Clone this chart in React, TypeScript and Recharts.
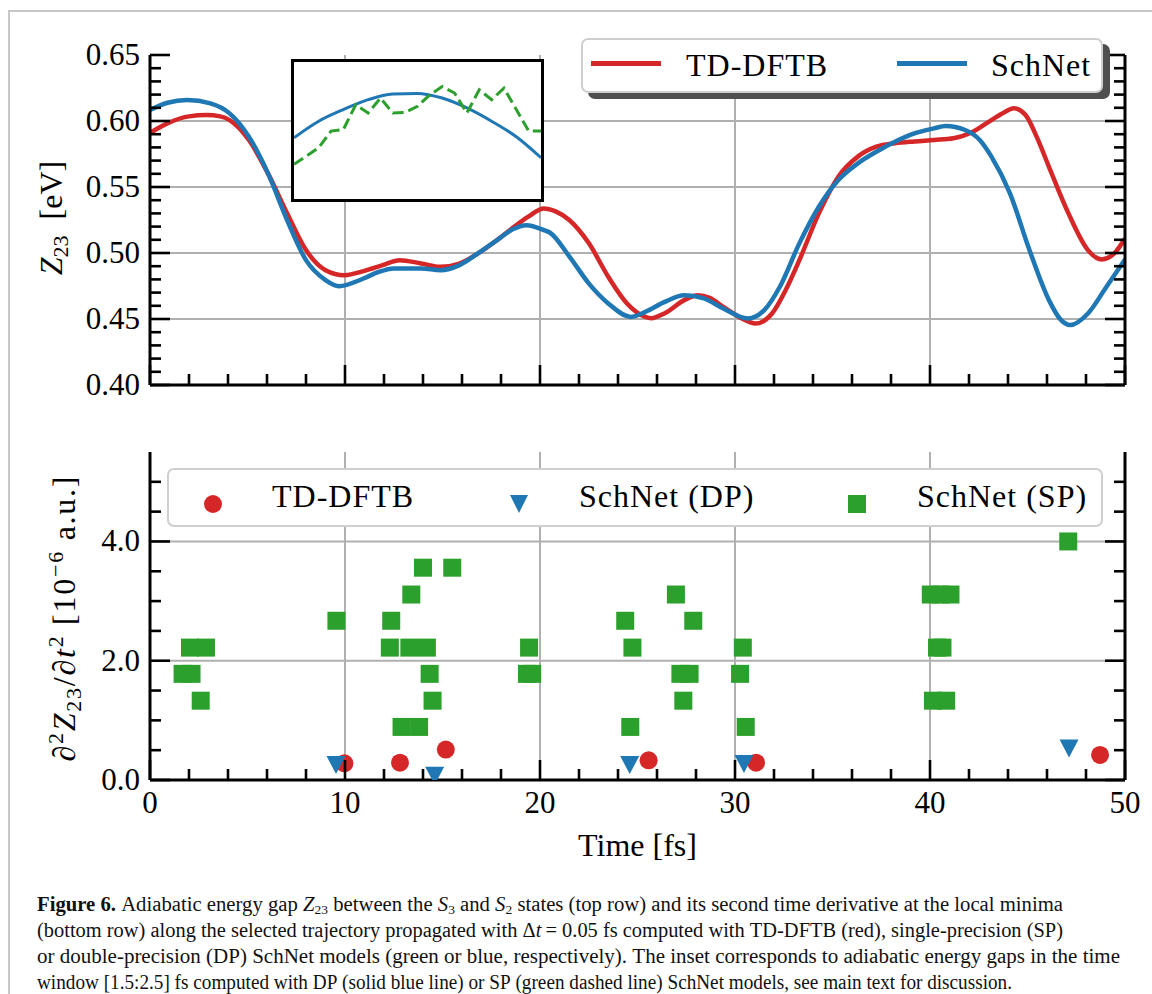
import React from 'react';
import { LineChart, Line, ScatterChart, Scatter, XAxis, YAxis, CartesianGrid, Legend, Label } from 'recharts';

const FONT = '"Liberation Serif","Times New Roman",serif';
const RED = '#d62728';
const BLUE = '#1f77b4';
const GREEN = '#2ca02c';
const GRID = '#b0b0b0';
const AXIS = { stroke: '#000', strokeWidth: 3 };

// ---------- top panel: Z23 [eV] ----------
const tddftbTime = [0, 1.0, 2.0, 2.9, 3.6, 4.1, 5.07, 6.05, 7.03, 8.0, 9.0, 9.97, 11.0, 11.93, 12.8, 13.9, 14.9, 15.87, 16.8, 17.8, 18.6, 19.4, 20.2, 20.8, 21.5, 22.5, 23.5, 24.45, 25.4, 25.7, 26.4, 27.4, 28.1, 28.7, 29.4, 30.35, 31.05, 31.9, 32.6, 33.3, 34.3, 35.3, 36.3, 37.25, 38.2, 39.2, 40.2, 41.2, 42.2, 43.15, 43.8, 44.3, 44.9, 45.5, 46.1, 47.1, 48.1, 48.8, 49.45, 50];
const tddftbGap = [0.591, 0.599, 0.6035, 0.6045, 0.6035, 0.6005, 0.5856, 0.5603, 0.5302, 0.5022, 0.487, 0.4832, 0.4865, 0.4908, 0.4946, 0.4921, 0.4895, 0.492, 0.4995, 0.5098, 0.519, 0.5275, 0.5338, 0.5315, 0.525, 0.5075, 0.482, 0.462, 0.4516, 0.4506, 0.4544, 0.4643, 0.468, 0.466, 0.4592, 0.4504, 0.4466, 0.4542, 0.472, 0.4946, 0.53, 0.5578, 0.573, 0.5805, 0.5831, 0.5845, 0.5856, 0.5869, 0.5919, 0.6007, 0.6065, 0.6096, 0.6045, 0.587, 0.5653, 0.53, 0.5022, 0.4951, 0.4997, 0.511];

const schnetTime = [0, 0.9, 1.9, 3.1, 4.08, 5.07, 6.05, 7.03, 8.0, 9.0, 9.68, 10.95, 11.7, 12.5, 13.9, 14.9, 15.87, 16.8, 17.8, 18.6, 19.3, 20.2, 20.5, 21.5, 22.5, 23.5, 24.65, 25.4, 26.4, 27.4, 28.4, 29.4, 30.65, 31.5, 32.3, 33.3, 34.3, 35.3, 36.3, 37.25, 38.2, 39.2, 40.2, 40.8, 41.8, 42.55, 43.15, 44.1, 45.1, 46.1, 46.7, 47.2, 48.1, 49.05, 50];
const schnetGap = [0.6083, 0.6138, 0.6159, 0.6134, 0.6058, 0.5881, 0.5603, 0.525, 0.4946, 0.4795, 0.4749, 0.4807, 0.4855, 0.4883, 0.4883, 0.487, 0.4908, 0.4995, 0.5098, 0.518, 0.5211, 0.5174, 0.5155, 0.4975, 0.477, 0.4618, 0.4516, 0.4554, 0.463, 0.468, 0.4656, 0.458, 0.4504, 0.4567, 0.4744, 0.5073, 0.535, 0.5553, 0.5679, 0.5767, 0.5843, 0.5906, 0.5944, 0.5962, 0.5932, 0.5856, 0.573, 0.5452, 0.5022, 0.4643, 0.4495, 0.4454, 0.4542, 0.4744, 0.495];

// ---------- inset: window [1.5:2.5] fs ----------
const insetDPTime = [1.5, 1.6, 1.7, 1.8, 1.9, 2.0, 2.1, 2.2, 2.3, 2.4, 2.5];
const insetDPGap = [0.61314, 0.61396, 0.61454, 0.61503, 0.61531, 0.61534, 0.61511, 0.61462, 0.61396, 0.61319, 0.61215];
const insetSPTime = [1.5, 1.55, 1.6, 1.65, 1.7, 1.75, 1.8, 1.85, 1.9, 1.95, 2.0, 2.05, 2.1, 2.15, 2.2, 2.25, 2.3, 2.35, 2.4, 2.45, 2.5];
const insetSPGap = [0.61182, 0.61223, 0.61265, 0.61347, 0.61355, 0.61478, 0.61437, 0.61511, 0.61437, 0.6144, 0.6147, 0.61527, 0.61568, 0.61536, 0.61437, 0.61552, 0.61503, 0.6156, 0.61454, 0.61347, 0.61347];

// ---------- bottom panel: second derivative at local minima ----------
const tddftbMinTime = [9.97, 12.82, 15.17, 25.57, 31.08, 48.72];
const tddftbMinD2 = [0.28, 0.29, 0.51, 0.33, 0.29, 0.42];
const dpMinTime = [9.54, 14.6, 24.6, 30.46, 47.13];
const dpMinD2 = [0.25, 0.07, 0.25, 0.27, 0.53];
const spMinTime = [1.67, 2.13, 2.05, 2.87, 2.6, 9.56, 12.37, 12.3, 13.3, 14.2, 13.4, 14.0, 15.5, 14.34, 14.49, 12.9, 13.8, 19.33, 19.6, 19.44, 24.37, 24.74, 24.63, 26.97, 27.2, 27.67, 27.35, 27.86, 30.4, 30.26, 30.55, 40.04, 40.54, 41.05, 40.36, 40.64, 40.15, 40.83, 47.09];
const spMinD2 = [1.78, 1.78, 2.22, 2.22, 1.33, 2.67, 2.67, 2.22, 2.22, 2.22, 3.11, 3.56, 3.56, 1.78, 1.33, 0.89, 0.89, 1.78, 1.78, 2.22, 2.67, 2.22, 0.89, 3.11, 1.78, 1.78, 1.33, 2.67, 2.22, 1.78, 0.89, 3.11, 3.11, 3.11, 2.22, 2.22, 1.33, 1.33, 4.0];

// ---------- ticks ----------
const xTicks = [0, 2, 4, 6, 8, 10, 12, 14, 16, 18, 20, 22, 24, 26, 28, 30, 32, 34, 36, 38, 40, 42, 44, 46, 48, 50];
const xMajor = [0, 10, 20, 30, 40, 50];
const xGrid = [10, 20, 30, 40];
const topYTicks = [0.40, 0.41, 0.42, 0.43, 0.44, 0.45, 0.46, 0.47, 0.48, 0.49, 0.50, 0.51, 0.52, 0.53, 0.54, 0.55, 0.56, 0.57, 0.58, 0.59, 0.60, 0.61, 0.62, 0.63, 0.64, 0.65];
const topYMajor = [0.40, 0.45, 0.50, 0.55, 0.60, 0.65];
const topYGrid = [0.45, 0.50, 0.55, 0.60];
const botYTicks = [0, 0.5, 1.0, 1.5, 2.0, 2.5, 3.0, 3.5, 4.0, 4.5, 5.0];
const botYMajor = [0, 2, 4];
const botYGrid = [2, 4];
const insetXTicks = [2.0];

// legend entries in display order
const topLegendNames = ['TD-DFTB', 'SchNet'];
const botLegendNames = ['TD-DFTB', 'SchNet (DP)', 'SchNet (SP)'];

const zip = (ts: number[], vs: number[]) => ts.map((t, i) => ({ t, v: vs[i] }));
const tddftbSeries = zip(tddftbTime, tddftbGap);
const schnetSeries = zip(schnetTime, schnetGap);
const insetDP = zip(insetDPTime, insetDPGap);
const insetSP = zip(insetSPTime, insetSPGap);
const tddftbPts = zip(tddftbMinTime, tddftbMinD2);
const dpPts = zip(dpMinTime, dpMinD2);
const spPts = zip(spMinTime, spMinD2);

const MAJOR_LEN = 20;
const MINOR_LEN = 11;
const TICK_FS = 31;

const makeTick = (side: string, majors: number[], fmt?: (v: number) => string, majorLen = MAJOR_LEN, minorLen = MINOR_LEN) =>
  (props: any) => {
    const { x, y, payload } = props;
    const v = Number(payload.value);
    const major = majors.some((m) => Math.abs(m - v) < 1e-9);
    const len = major ? majorLen : minorLen;
    let x2 = x;
    let y2 = y;
    if (side === 'left') x2 = x + len;
    else if (side === 'right') x2 = x - len;
    else if (side === 'bottom') y2 = y - len;
    else y2 = y + len;
    let label = null;
    if (major && fmt) {
      if (side === 'left') {
        label = (
          <text x={x - 10} y={y + 10} textAnchor="end" fontFamily={FONT} fontSize={TICK_FS} fill="#000">{fmt(v)}</text>
        );
      } else {
        label = (
          <text x={x} y={y + 33} textAnchor="middle" fontFamily={FONT} fontSize={TICK_FS} fill="#000">{fmt(v)}</text>
        );
      }
    }
    return (
      <g>
        <line x1={x} y1={y} x2={x2} y2={y2} stroke="#000" strokeWidth={2.6} />
        {label}
      </g>
    );
  };

const vbOf = (props: any, fb: any) => (props && props.viewBox ? props.viewBox : fb);

const TopYLabel = (props: any) => {
  const vb = vbOf(props, { x: 0, y: 55, width: 150, height: 330 });
  const cx = vb.x + 51;
  const cy = vb.y + vb.height / 2 - 2;
  return (
    <text transform={`rotate(-90 ${cx} ${cy})`} x={cx} y={cy + 11} textAnchor="middle" fontFamily={FONT} fontSize={32} fill="#000">
      <tspan fontStyle="italic">Z</tspan>
      <tspan fontSize={22} dy={6}>23</tspan>
      <tspan dy={-6}>{'\u00a0\u00a0[eV]'}</tspan>
    </text>
  );
};

const BotYLabel = (props: any) => {
  const vb = vbOf(props, { x: 0, y: 52, width: 150, height: 328 });
  const cx = vb.x + 64;
  const cy = vb.y + vb.height / 2 + 3;
  return (
    <text transform={`rotate(-90 ${cx} ${cy})`} x={cx} y={cy + 11} textAnchor="middle" fontFamily={FONT} fontSize={32} fill="#000" textLength={285} lengthAdjust="spacing">
      <tspan>∂</tspan>
      <tspan fontSize={22} dy={-12}>2</tspan>
      <tspan fontStyle="italic" dy={12}>Z</tspan>
      <tspan fontSize={22} dy={6}>23</tspan>
      <tspan dy={-6}>/∂</tspan>
      <tspan fontStyle="italic">t</tspan>
      <tspan fontSize={22} dy={-12}>2</tspan>
      <tspan dy={12}>{'\u00a0[10'}</tspan>
      <tspan fontSize={22} dy={-12}>−6</tspan>
      <tspan dy={12}>{'\u00a0a.u.]'}</tspan>
    </text>
  );
};

const XLabel = (props: any) => {
  const vb = vbOf(props, { x: 150, y: 380, width: 975, height: 100 });
  return (
    <text x={vb.x + vb.width / 2} y={vb.y + 76} textAnchor="middle" fontFamily={FONT} fontSize={32} fill="#000">
      Time [fs]
    </text>
  );
};

// legend layouts (pixel offsets inside legend boxes)
const topLegendSlots = [{ mark: 8, text: 103 }, { mark: 314, text: 408 }];
const botLegendSlots = [{ mark: 44, text: 103 }, { mark: 350, text: 410 }, { mark: 688, text: 748 }];

const findEntry = (payload: any[], name: string) => payload.find((p: any) => p.value === name) || { value: name, color: '#000' };

const TopLegendContent = (props: any) => {
  const payload = props.payload || [];
  return (
    <div style={{ position: 'relative', width: 522, height: 55, boxSizing: 'border-box', border: '2px solid #cfcfcf', borderRadius: 7, background: '#fff', boxShadow: '7px 6px 0 #4f4f4f', fontFamily: FONT, fontSize: 32, color: '#000' }}>
      {topLegendNames.map((name, i) => {
        const p = findEntry(payload, name);
        const slot = topLegendSlots[i];
        return (
          <React.Fragment key={name}>
            <div style={{ position: 'absolute', left: slot.mark, top: 21, width: 70, height: 5, background: p.color }} />
            <div style={{ position: 'absolute', left: slot.text, top: 0, height: 51, lineHeight: '51px', letterSpacing: 1, whiteSpace: 'nowrap' }}>{p.value}</div>
          </React.Fragment>
        );
      })}
    </div>
  );
};

const Marker = ({ kind, color }: { kind: string; color: string }) => {
  if (kind === 'circle') return <svg width={20} height={20}><circle cx={10} cy={10} r={9} fill={color} /></svg>;
  if (kind === 'tri') return <svg width={20} height={20}><polygon points="1,1 19,1 10,19" fill={color} /></svg>;
  return <svg width={20} height={20}><rect x={1} y={1} width={18} height={18} fill={color} /></svg>;
};

const botKinds = ['circle', 'tri', 'square'];

const BotLegendContent = (props: any) => {
  const payload = props.payload || [];
  return (
    <div style={{ position: 'relative', width: 936, height: 59, boxSizing: 'border-box', border: '2px solid #cfcfcf', borderRadius: 7, background: '#fff', fontFamily: FONT, fontSize: 32, color: '#000' }}>
      {botLegendNames.map((name, i) => {
        const p = findEntry(payload, name);
        const slot = botLegendSlots[i];
        return (
          <React.Fragment key={name}>
            <div style={{ position: 'absolute', left: slot.mark - 10, top: 15, width: 20, height: 20 }}>
              <Marker kind={botKinds[i]} color={p.color} />
            </div>
            <div style={{ position: 'absolute', left: slot.text, top: 0, height: 55, lineHeight: '53px', letterSpacing: 1, whiteSpace: 'nowrap' }}>{p.value}</div>
          </React.Fragment>
        );
      })}
    </div>
  );
};

const CircleShape = (p: any) => <circle cx={p.cx} cy={p.cy} r={9} fill={RED} />;
const TriShape = (p: any) => (
  <polygon points={`${p.cx - 9.5},${p.cy - 9} ${p.cx + 9.5},${p.cy - 9} ${p.cx},${p.cy + 9}`} fill={BLUE} />
);
const SquareShape = (p: any) => <rect x={p.cx - 9} y={p.cy - 9} width={18} height={18} fill={GREEN} />;

function TopPanel() {
  return (
    <LineChart width={1152} height={420} margin={{ top: 55, right: 0, bottom: 0, left: 0 }}>
      <CartesianGrid xAxisId="b" yAxisId="l" stroke={GRID} strokeWidth={2} verticalValues={xGrid} horizontalValues={topYGrid} />
      <XAxis xAxisId="b" type="number" dataKey="t" domain={[0, 50]} ticks={xTicks} interval={0} height={35} axisLine={AXIS} tickLine={false} tickSize={0} tickMargin={0} tick={makeTick('bottom', xMajor)} allowDataOverflow />
      <XAxis xAxisId="t" type="number" orientation="top" domain={[0, 50]} height={0} axisLine={AXIS} tick={false} tickLine={false} allowDataOverflow />
      <YAxis yAxisId="l" type="number" domain={[0.4, 0.65]} ticks={topYTicks} interval={0} width={150} axisLine={AXIS} tickLine={false} tickSize={0} tickMargin={0} tick={makeTick('left', topYMajor, (v) => v.toFixed(2))} allowDataOverflow>
        <Label content={TopYLabel} />
      </YAxis>
      <YAxis yAxisId="r" orientation="right" type="number" domain={[0.4, 0.65]} ticks={topYTicks} interval={0} width={27} axisLine={AXIS} tickLine={false} tickSize={0} tickMargin={0} tick={makeTick('right', topYMajor)} allowDataOverflow />
      <Line xAxisId="b" yAxisId="l" data={tddftbSeries} dataKey="v" name="TD-DFTB" stroke={RED} strokeWidth={4.5} dot={false} activeDot={false} type="monotone" isAnimationActive={false} />
      <Line xAxisId="b" yAxisId="l" data={schnetSeries} dataKey="v" name="SchNet" stroke={BLUE} strokeWidth={4.5} dot={false} activeDot={false} type="monotone" isAnimationActive={false} />
      <Legend layout="horizontal" verticalAlign="middle" align="center" wrapperStyle={{ left: 581, top: 38, width: 530, height: 62 }} content={TopLegendContent} />
    </LineChart>
  );
}

function Inset() {
  return (
    <div style={{ position: 'absolute', left: 291, top: 59, width: 247, height: 137, border: '3px solid #000', background: '#fff' }}>
      <LineChart width={247} height={137} margin={{ top: 0, right: 0, bottom: 0, left: 0 }}>
        <XAxis xAxisId="i" type="number" dataKey="t" domain={[1.5, 2.5]} ticks={insetXTicks} interval={0} height={0} axisLine={false} tickLine={false} tickSize={0} tickMargin={0} tick={makeTick('bottom', insetXTicks, undefined, 10, 10)} allowDataOverflow />
        <YAxis yAxisId="i" type="number" domain={[0.6101, 0.6169]} hide allowDataOverflow />
        <Line xAxisId="i" yAxisId="i" data={insetDP} dataKey="v" name="DP" stroke={BLUE} strokeWidth={3} dot={false} activeDot={false} type="monotone" isAnimationActive={false} />
        <Line xAxisId="i" yAxisId="i" data={insetSP} dataKey="v" name="SP" stroke={GREEN} strokeWidth={3} strokeDasharray="11 5" dot={false} activeDot={false} type="linear" isAnimationActive={false} />
      </LineChart>
    </div>
  );
}

function BottomPanel() {
  return (
    <ScatterChart width={1152} height={480} margin={{ top: 52, right: 0, bottom: 0, left: 0 }}>
      <CartesianGrid xAxisId="b" yAxisId="l" stroke={GRID} strokeWidth={2} verticalValues={xGrid} horizontalValues={botYGrid} />
      <XAxis xAxisId="b" type="number" dataKey="t" domain={[0, 50]} ticks={xTicks} interval={0} height={100} axisLine={AXIS} tickLine={false} tickSize={0} tickMargin={0} tick={makeTick('bottom', xMajor, (v) => String(v))} allowDataOverflow>
        <Label content={XLabel} />
      </XAxis>
      <XAxis xAxisId="t" orientation="top" type="number" dataKey="t" domain={[0, 50]} ticks={xTicks} interval={0} height={0} axisLine={AXIS} tickLine={false} tickSize={0} tickMargin={0} tick={makeTick('top', xMajor)} allowDataOverflow />
      <YAxis yAxisId="l" type="number" dataKey="v" domain={[0, 5.5]} ticks={botYTicks} interval={0} width={150} axisLine={AXIS} tickLine={false} tickSize={0} tickMargin={0} tick={makeTick('left', botYMajor, (v) => v.toFixed(1))} allowDataOverflow>
        <Label content={BotYLabel} />
      </YAxis>
      <YAxis yAxisId="r" orientation="right" type="number" dataKey="v" domain={[0, 5.5]} ticks={botYTicks} interval={0} width={27} axisLine={AXIS} tickLine={false} tickSize={0} tickMargin={0} tick={makeTick('right', botYMajor)} allowDataOverflow />
      <Scatter xAxisId="b" yAxisId="l" name="TD-DFTB" data={tddftbPts} fill={RED} shape={CircleShape} isAnimationActive={false} />
      <Scatter xAxisId="b" yAxisId="l" name="SchNet (DP)" data={dpPts} fill={BLUE} shape={TriShape} isAnimationActive={false} />
      <Scatter xAxisId="b" yAxisId="l" name="SchNet (SP)" data={spPts} fill={GREEN} shape={SquareShape} isAnimationActive={false} />
      <Legend layout="horizontal" verticalAlign="middle" align="center" wrapperStyle={{ left: 167, top: 68, width: 936, height: 59 }} content={BotLegendContent} />
    </ScatterChart>
  );
}

type Seg = { t: string; b?: boolean; i?: boolean; sub?: boolean };
const captionLines: Seg[][] = [
  [
    { t: 'Figure 6.', b: true },
    { t: ' Adiabatic energy gap ' },
    { t: 'Z', i: true },
    { t: '23', sub: true },
    { t: ' between the ' },
    { t: 'S', i: true },
    { t: '3', sub: true },
    { t: ' and ' },
    { t: 'S', i: true },
    { t: '2', sub: true },
    { t: ' states (top row) and its second time derivative at the local minima' },
  ],
  [
    { t: '(bottom row) along the selected trajectory propagated with Δ' },
    { t: 't', i: true },
    { t: '\u2009= 0.05 fs computed with TD-DFTB (red), single-precision (SP)' },
  ],
  [{ t: 'or double-precision (DP) SchNet models (green or blue, respectively). The inset corresponds to adiabatic energy gaps in the time' }],
  [{ t: 'window [1.5:2.5] fs computed with DP (solid blue line) or SP (green dashed line) SchNet models, see main text for discussion.' }],
];
const captionWidths = [1026, 1026, 1083, 975];
const captionBaselines = [51, 77, 103, 129];

function Caption() {
  return (
    <svg width={1152} height={134} style={{ position: 'absolute', left: 0, top: 860 }}>
      {captionLines.map((segs, li) => {
        let shifted = false;
        return (
          <text key={li} x={37} y={captionBaselines[li]} fontFamily={FONT} fontSize={20} fill="#111" textLength={captionWidths[li]} lengthAdjust="spacingAndGlyphs">
            {segs.map((s, si) => {
              let dy = 0;
              if (s.sub && !shifted) { dy = 3; shifted = true; }
              else if (!s.sub && shifted) { dy = -3; shifted = false; }
              return (
                <tspan key={si} dy={dy || undefined} fontWeight={s.b ? 'bold' : undefined} fontStyle={s.i ? 'italic' : undefined} fontSize={s.sub ? 13 : undefined}>
                  {s.t.replace(/ /g, '\u00a0')}
                </tspan>
              );
            })}
          </text>
        );
      })}
    </svg>
  );
}

export default function App() {
  return (
    <div style={{ position: 'absolute', left: 0, top: 0, width: 1152, height: 994, background: '#fff', overflow: 'hidden' }}>
      <div style={{ position: 'absolute', left: 8, top: 10, width: 1144, height: 984, borderTop: '2px solid #c8c8c8', borderLeft: '2px solid #c8c8c8' }} />
      <div style={{ position: 'absolute', left: 0, top: 0 }}>
        <TopPanel />
      </div>
      <Inset />
      <div style={{ position: 'absolute', left: 0, top: 400 }}>
        <BottomPanel />
      </div>
      <Caption />
    </div>
  );
}
